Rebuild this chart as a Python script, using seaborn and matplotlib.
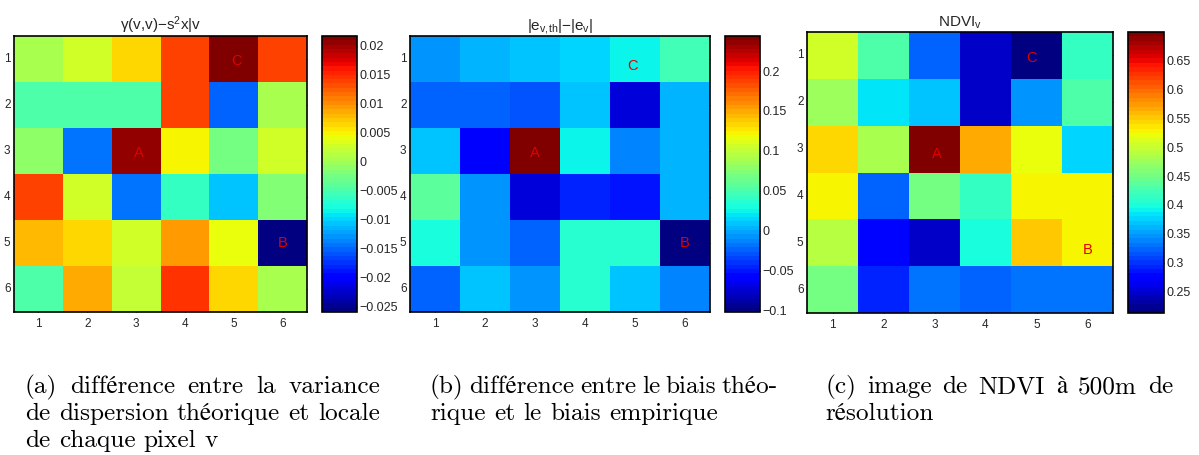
import numpy as np
import pandas as pd
import matplotlib
matplotlib.use('Agg')
import matplotlib.pyplot as plt
import seaborn as sns

# ---------------- data ----------------
pixel_rows = [1, 2, 3, 4, 5, 6]
pixel_cols = [1, 2, 3, 4, 5, 6]

gamma_diff = [
    [0.0008, 0.0027, 0.0065, 0.0136, 0.0217, 0.0136],
    [-0.0045, -0.0045, -0.0050, 0.0136, -0.0152, 0.0003],
    [-0.0011, -0.0145, 0.0205, 0.0046, -0.0021, 0.0027],
    [0.0136, 0.0027, -0.0140, -0.0064, -0.0104, -0.0016],
    [0.0079, 0.0065, 0.0027, 0.0093, 0.0039, -0.0259],
    [-0.0050, 0.0086, 0.0020, 0.0146, 0.0065, 0.0008],
]

bias_diff = [
    [-0.007, 0.0018, 0.0105, 0.0148, 0.0226, 0.045],
    [-0.024, -0.024, -0.0285, 0.0105, -0.072, 0.006],
    [0.0105, -0.064, 0.244, 0.0226, -0.0155, 0.0018],
    [0.058, -0.007, -0.072, -0.046, -0.050, 0.0018],
    [0.0295, -0.007, -0.024, 0.0364, 0.0364, -0.102],
    [-0.024, 0.0105, -0.007, 0.0364, 0.0105, -0.011],
]

ndvi = [
    [0.505, 0.432, 0.322, 0.249, 0.2125, 0.412],
    [0.476, 0.383, 0.365, 0.249, 0.347, 0.432],
    [0.541, 0.486, 0.700, 0.566, 0.524, 0.377],
    [0.525, 0.322, 0.451, 0.412, 0.525, 0.525],
    [0.493, 0.281, 0.249, 0.398, 0.554, 0.529],
    [0.451, 0.292, 0.334, 0.322, 0.334, 0.334],
]

titles = ['\u03b3(v,v)\u2212s$^{2}$x|v',
          r'|e$_{\mathrm{v,\!th}}$|$-$|e$_{\mathrm{v}}$|',
          r'NDVI$_{\mathrm{v}}$']

cbar_ticks_a = [-0.025, -0.02, -0.015, -0.01, -0.005, 0, 0.005, 0.01, 0.015, 0.02]
cbar_labels_a = ['\u22120.025', '\u22120.02', '\u22120.015', '\u22120.01', '\u22120.005',
                 '0', '0.005', '0.01', '0.015', '0.02']
cbar_ticks_b = [-0.1, -0.05, 0, 0.05, 0.1, 0.15, 0.2]
cbar_labels_b = ['\u22120.1', '\u22120.05', '0', '0.05', '0.1', '0.15', '0.2']
cbar_ticks_c = [0.25, 0.3, 0.35, 0.4, 0.45, 0.5, 0.55, 0.6, 0.65]
cbar_labels_c = ['0.25', '0.3', '0.35', '0.4', '0.45', '0.5', '0.55', '0.6', '0.65']

# markers: (label, col, row) in pixel coordinates
marks_a = [('C', 5.05, 1.05), ('A', 3.05, 3.05), ('B', 6.0, 5.0)]
marks_b = [('C', 4.95, 1.15), ('A', 3.0, 3.05), ('B', 6.0, 5.0)]
marks_c = [('C', 4.9, 1.05), ('A', 3.05, 3.1), ('B', 6.0, 5.15)]

captions_a = ['(a) diff\u00e9rence entre la variance',
              'de dispersion th\u00e9orique et locale',
              'de chaque pixel v']
captions_b = ['(b) diff\u00e9rence entre le biais th\u00e9o-',
              'rique et le biais empirique']
captions_c = ['(c) image de NDVI \u00e0 500m de',
              'r\u00e9solution']

# ---------------- style ----------------
sns.set_theme(style='white')
plt.rcParams['font.family'] = ['Liberation Sans', 'DejaVu Sans']
plt.rcParams['mathtext.fontset'] = 'custom'
plt.rcParams['mathtext.rm'] = 'Liberation Sans'
plt.rcParams['mathtext.it'] = 'Liberation Sans:italic'
plt.rcParams['axes.unicode_minus'] = True

W, H = 1199, 455
fig = plt.figure(figsize=(W / 100, H / 100), dpi=100)
fig.patch.set_facecolor('white')

jet64 = matplotlib.colormaps['jet'].resampled(64)


def px_rect(x0, x1, y0, y1):
    return [x0 / W, 1 - y1 / H, (x1 - x0) / W, (y1 - y0) / H]


panels = [
    (gamma_diff, px_rect(14, 307, 36, 312), px_rect(322, 357, 36, 312),
     cbar_ticks_a, cbar_labels_a, marks_a, titles[0]),
    (bias_diff, px_rect(410, 710, 36, 312), px_rect(725, 760, 36, 312),
     cbar_ticks_b, cbar_labels_b, marks_b, titles[1]),
    (ndvi, px_rect(807, 1113, 32, 313), px_rect(1128, 1164, 32, 313),
     cbar_ticks_c, cbar_labels_c, marks_c, titles[2]),
]

for data, rect, crect, cticks, clabels, marks, title in panels:
    ax = fig.add_axes(rect)
    cax = fig.add_axes(crect)
    df = pd.DataFrame(data, index=pixel_rows, columns=pixel_cols)
    sns.heatmap(df, ax=ax, cbar_ax=cax, cmap=jet64, square=False,
                linewidths=0, xticklabels=pixel_cols, yticklabels=pixel_rows)
    ax.set_xlabel('')
    ax.set_ylabel('')
    ax.tick_params(axis='both', which='both', direction='in', length=4, width=0.8,
                   color='black', labelsize=8.5, top=True, right=True,
                   bottom=True, left=True)
    ax.tick_params(axis='x', pad=4)
    ax.tick_params(axis='y', pad=2.5)
    plt.setp(ax.get_yticklabels(), rotation=0)
    plt.setp(ax.get_xticklabels(), rotation=0)
    for s in ax.spines.values():
        s.set_visible(True)
        s.set_color('black')
        s.set_linewidth(1.2)
    ax.set_title(title, fontsize=11, pad=4)
    for lab, cx, cy in marks:
        ax.text(cx - 0.5, cy - 0.5, lab, color='#e00000', fontsize=10.5,
                ha='center', va='center')
    cb = ax.collections[0].colorbar
    cb.set_ticks(cticks)
    cb.set_ticklabels(clabels)
    cax.tick_params(direction='in', length=4, width=0.8, color='black',
                    labelsize=9, left=True, right=True, pad=1.5)
    cb.outline.set_edgecolor('black')
    cb.outline.set_linewidth(1.2)

# ---------------- captions (justified, Computer Modern look) ----------------
cap_family = ['cmr10', 'STIXGeneral', 'DejaVu Serif']
renderer = fig.canvas.get_renderer()


def text_width(s, size):
    t = fig.text(0, 0, s, fontsize=size, family=cap_family)
    w = t.get_window_extent(renderer).width
    t.remove()
    return w


# scale font so the natural width of the reference line matches the picture
ref_line = captions_a[1]
base = 10.0
cap_size = base * 355.0 / text_width(ref_line, base)

line_y = [393, 420, 447]
blocks = [(25, 380, captions_a), (430, 778, captions_b), (825, 1173, captions_c)]
space_w = text_width('a a', cap_size) - text_width('aa', cap_size)
for x0, x1, lines in blocks:
    for i, line in enumerate(lines):
        words = line.split(' ')
        widths = [text_width(wd, cap_size) for wd in words]
        last = (i == len(lines) - 1)
        if last or len(words) == 1:
            gap = space_w
        else:
            gap = (x1 - x0 - sum(widths)) / (len(words) - 1)
        x = x0
        for wd, w in zip(words, widths):
            fig.text(x / W, 1 - line_y[i] / H, wd, fontsize=cap_size,
                     family=cap_family, color='black', ha='left', va='baseline')
            x += w + gap

fig.savefig('out.png', dpi=100, facecolor='white')
